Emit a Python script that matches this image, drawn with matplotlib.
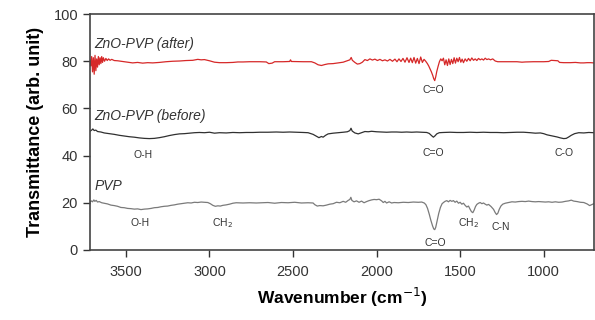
import numpy as np
import matplotlib
matplotlib.use('Agg')
import matplotlib.pyplot as plt

plt.rcParams['font.family'] = ['Liberation Sans', 'DejaVu Sans']

# spectra: (wavenumber, transmittance)
after_pts = [(3716, 80.5), (3710, 78.0), (3705, 82.0), (3700, 75.5), (3695, 81.5), (3690, 74.5),
             (3685, 82.5), (3680, 76.0), (3675, 81.0), (3670, 77.5), (3665, 82.0), (3660, 78.5),
             (3655, 81.5), (3650, 79.0), (3645, 82.0), (3640, 79.5), (3635, 81.5), (3628, 80.0),
             (3620, 81.2), (3612, 80.3), (3604, 81.0), (3595, 80.4), (3585, 80.8), (3570, 80.3),
             (3550, 80.2), (3520, 79.9), (3490, 79.6), (3460, 79.3), (3430, 79.5), (3400, 79.2),
             (3370, 79.4), (3340, 79.3), (3300, 79.5), (3260, 79.8), (3220, 80.0), (3180, 80.1),
             (3140, 80.3), (3100, 80.4), (3070, 80.8), (3050, 80.6), (3030, 80.7), (3000, 80.2),
             (2970, 79.6), (2940, 79.4), (2900, 79.4), (2860, 79.5), (2830, 79.7), (2800, 79.7),
             (2760, 79.8), (2700, 79.8), (2660, 79.7), (2645, 79.0), (2625, 79.2), (2610, 79.8),
             (2560, 79.8), (2520, 79.9), (2515, 80.6), (2510, 79.9), (2440, 79.8), (2390, 79.8),
             (2370, 79.3), (2350, 78.5), (2330, 78.2), (2310, 78.6), (2290, 78.9), (2260, 79.0),
             (2230, 79.3), (2200, 79.6), (2175, 80.2), (2160, 80.6), (2152, 81.6), (2145, 80.4),
             (2130, 79.5), (2115, 78.8), (2100, 79.0), (2085, 79.6), (2070, 80.7), (2055, 80.3),
             (2040, 81.0), (2025, 80.5), (2010, 80.9), (1995, 80.3), (1980, 80.8), (1965, 80.2),
             (1950, 80.6), (1935, 80.1), (1920, 80.8), (1905, 80.0), (1890, 80.9), (1878, 79.8),
             (1866, 81.0), (1854, 79.9), (1842, 81.2), (1830, 79.6), (1818, 81.5), (1806, 79.5),
             (1796, 81.3), (1786, 79.4), (1776, 81.6), (1766, 79.2), (1756, 81.2), (1746, 79.0),
             (1736, 81.8), (1726, 79.5), (1716, 80.8), (1706, 80.0), (1696, 79.0), (1688, 78.0),
             (1680, 76.8), (1672, 75.5), (1664, 74.0), (1658, 72.6), (1652, 71.8), (1646, 73.4),
             (1640, 75.6), (1632, 77.8), (1624, 79.8), (1616, 81.0), (1608, 80.2), (1600, 81.3),
             (1592, 78.5), (1584, 80.6), (1576, 78.2), (1568, 81.0), (1560, 78.6), (1552, 80.8),
             (1544, 79.0), (1536, 81.5), (1528, 79.2), (1520, 81.3), (1512, 79.8), (1504, 81.6),
             (1496, 79.6), (1488, 80.9), (1480, 79.4), (1470, 81.0), (1460, 80.0), (1450, 81.2),
             (1440, 80.2), (1430, 81.4), (1420, 80.4), (1410, 81.0), (1400, 80.3), (1390, 81.2),
             (1380, 80.6), (1370, 81.0), (1360, 80.5), (1350, 81.3), (1340, 80.7), (1330, 81.0),
             (1318, 80.6), (1305, 81.0), (1290, 80.1), (1275, 79.8), (1240, 79.8), (1200, 79.8),
             (1160, 79.8), (1130, 79.6), (1110, 79.7), (1060, 79.8), (1000, 79.8), (970, 79.9),
             (955, 80.4), (935, 80.3), (915, 80.2), (905, 79.5), (880, 79.4), (840, 79.4),
             (810, 79.5), (780, 79.3), (760, 79.3), (740, 79.4), (720, 79.4), (700, 79.3)]

before_pts = [(3716, 50.3), (3705, 50.8), (3698, 51.3), (3690, 50.6), (3680, 50.8), (3670, 50.2),
              (3650, 50.0), (3630, 49.6), (3600, 49.3), (3570, 49.0), (3540, 48.6), (3510, 48.3),
              (3480, 48.0), (3450, 47.8), (3420, 47.5), (3390, 47.3), (3360, 47.2), (3330, 47.3),
              (3300, 47.6), (3270, 48.0), (3240, 48.5), (3210, 48.9), (3180, 49.2), (3150, 49.3),
              (3120, 49.5), (3090, 49.7), (3060, 49.8), (3030, 49.7), (3000, 49.9), (2970, 49.5),
              (2940, 49.7), (2900, 49.6), (2860, 49.8), (2820, 49.7), (2780, 49.8), (2740, 49.8),
              (2700, 49.9), (2650, 49.9), (2600, 50.0), (2560, 49.9), (2520, 50.0), (2480, 49.9),
              (2440, 49.8), (2410, 49.7), (2380, 49.0), (2360, 48.2), (2345, 47.6), (2330, 48.1),
              (2320, 47.8), (2305, 48.6), (2290, 49.2), (2260, 49.5), (2230, 49.7), (2200, 49.9),
              (2175, 50.1), (2160, 50.6), (2153, 51.6), (2146, 50.4), (2130, 49.6), (2110, 49.2),
              (2090, 49.7), (2070, 50.2), (2050, 50.1), (2030, 50.3), (2000, 50.1), (1970, 50.0),
              (1940, 49.9), (1910, 50.0), (1880, 50.0), (1850, 49.9), (1820, 50.0), (1790, 49.9),
              (1760, 50.0), (1730, 49.9), (1700, 49.8), (1685, 49.4), (1670, 48.4), (1660, 47.8),
              (1650, 48.4), (1640, 49.2), (1625, 49.7), (1600, 49.8), (1560, 49.9), (1520, 49.8),
              (1480, 49.8), (1440, 49.9), (1400, 49.8), (1360, 49.9), (1320, 49.8), (1280, 49.8),
              (1240, 49.7), (1200, 49.8), (1160, 49.9), (1120, 49.9), (1080, 49.7), (1050, 49.5),
              (1020, 49.6), (1000, 49.3), (980, 48.8), (960, 48.5), (940, 48.2), (920, 47.9),
              (900, 47.5), (880, 47.2), (865, 47.3), (850, 47.9), (835, 48.6), (815, 49.3),
              (790, 49.7), (760, 49.6), (730, 49.8), (700, 49.7)]

pvp_pts = [(3716, 20.2), (3708, 20.8), (3700, 20.4), (3692, 21.2), (3686, 20.6), (3678, 21.0),
           (3670, 20.3), (3660, 20.5), (3645, 20.0), (3630, 19.8), (3610, 19.5), (3590, 19.0),
           (3570, 18.8), (3550, 18.5), (3530, 18.0), (3510, 17.9), (3490, 17.6), (3470, 17.5),
           (3450, 17.3), (3430, 17.4), (3410, 17.1), (3390, 17.3), (3370, 17.4), (3350, 17.6),
           (3330, 17.9), (3310, 18.0), (3290, 18.3), (3270, 18.5), (3250, 18.6), (3230, 18.9),
           (3210, 19.1), (3190, 19.4), (3170, 19.6), (3150, 19.8), (3130, 20.0), (3110, 19.9),
           (3090, 20.2), (3070, 20.1), (3050, 20.3), (3030, 20.2), (3010, 20.1), (2995, 19.6),
           (2980, 18.9), (2965, 18.5), (2950, 18.7), (2935, 18.6), (2920, 18.9), (2900, 19.1),
           (2880, 19.4), (2860, 19.8), (2840, 20.0), (2800, 19.9), (2760, 20.0), (2720, 19.9),
           (2690, 20.0), (2650, 20.1), (2610, 19.8), (2570, 20.1), (2530, 20.0), (2490, 20.2),
           (2450, 19.9), (2410, 20.0), (2380, 19.9), (2370, 19.2), (2355, 18.6), (2340, 18.8),
           (2320, 18.7), (2300, 19.0), (2280, 19.4), (2260, 19.6), (2240, 20.2), (2220, 20.0),
           (2200, 20.6), (2185, 20.2), (2170, 21.0), (2160, 21.4), (2154, 22.3), (2148, 21.0),
           (2135, 20.4), (2120, 20.8), (2105, 20.2), (2090, 20.7), (2075, 20.0), (2060, 20.5),
           (2045, 20.9), (2030, 21.2), (2015, 21.4), (2000, 21.3), (1985, 21.5), (1970, 20.8),
           (1960, 20.1), (1950, 20.6), (1940, 19.9), (1925, 20.4), (1910, 19.9), (1895, 20.1),
           (1870, 20.0), (1840, 20.2), (1810, 20.1), (1780, 20.3), (1750, 20.2), (1730, 20.3),
           (1715, 19.9), (1705, 19.2), (1695, 17.6), (1685, 15.2), (1675, 12.5), (1665, 10.2),
           (1658, 8.9), (1652, 8.6), (1646, 9.6), (1638, 12.2), (1628, 15.5), (1618, 18.0),
           (1608, 19.6), (1598, 20.2), (1590, 20.6), (1580, 20.9), (1570, 20.4), (1560, 21.0),
           (1550, 20.6), (1540, 20.9), (1530, 20.2), (1520, 20.7), (1510, 19.8), (1500, 20.2),
           (1490, 19.4), (1480, 19.8), (1470, 18.9), (1460, 18.2), (1450, 18.6), (1440, 17.2),
           (1432, 16.2), (1424, 15.8), (1416, 16.9), (1408, 18.4), (1400, 19.3), (1390, 19.8),
           (1380, 20.1), (1370, 19.6), (1360, 19.9), (1350, 19.4), (1340, 19.0), (1330, 19.3),
           (1315, 18.4), (1300, 17.2), (1290, 15.8), (1282, 15.0), (1274, 15.6), (1266, 17.2),
           (1256, 18.6), (1245, 19.4), (1230, 19.8), (1210, 20.1), (1190, 20.4), (1170, 20.3),
           (1150, 20.5), (1130, 20.6), (1110, 20.5), (1090, 20.7), (1070, 20.5), (1050, 20.4),
           (1030, 20.5), (1010, 20.4), (990, 20.3), (970, 20.4), (950, 20.2), (930, 20.4),
           (910, 20.2), (890, 20.3), (870, 20.6), (850, 20.8), (835, 21.1), (820, 20.7),
           (800, 20.5), (780, 20.2), (760, 20.1), (740, 19.5), (725, 18.8), (712, 19.2),
           (700, 19.6)]

# sample names and band labels: (text, wavenumber, y)
names = [('ZnO-PVP (after)', 3688, 87.5), ('ZnO-PVP (before)', 3688, 56.6), ('PVP', 3688, 27.2)]
bands = [('C=O', 1658, 67.8), ('O-H', 3398, 40.2), ('C=O', 1658, 41.1), ('C-O', 878, 41.1),
         ('O-H', 3416, 11.4), ('CH$_2$', 2924, 11.4), ('C=O', 1650, 3.0),
         ('CH$_2$', 1448, 11.4), ('C-N', 1256, 9.7)]

fig = plt.figure(figsize=(5.95, 3.2), dpi=100)
ax = fig.add_axes([0.151, 0.219, 0.847, 0.737])

for pts, col in [(after_pts, '#d62828'), (before_pts, '#303030'), (pvp_pts, '#7a7a7a')]:
    arr = np.array(pts)
    ax.plot(arr[:, 0], arr[:, 1], color=col, lw=0.9)

for txt, x, y in names:
    ax.text(x, y, txt, style='italic', fontsize=10, color='#333333', ha='left', va='center')
for txt, x, y in bands:
    ax.text(x, y, txt, fontsize=7.5, color='#333333', ha='center', va='center')

ax.set_xlim(3716, 700)
ax.set_ylim(0, 100)
ax.set_xticks([3500, 3000, 2500, 2000, 1500, 1000])
ax.set_yticks([0, 20, 40, 60, 80, 100])
ax.tick_params(direction='out', length=5, width=1, colors='#333333', labelsize=10.5)
ax.tick_params(axis='x', pad=6)
for s in ax.spines.values():
    s.set_color('#444444')
    s.set_linewidth(1.2)

ax.set_xlabel('Wavenumber (cm$^{-1}$)', fontsize=12.5, fontweight='bold', labelpad=5)
ax.set_ylabel('Transmittance (arb. unit)', fontsize=13, fontweight='bold', labelpad=7)

fig.savefig('out.png', dpi=100)
